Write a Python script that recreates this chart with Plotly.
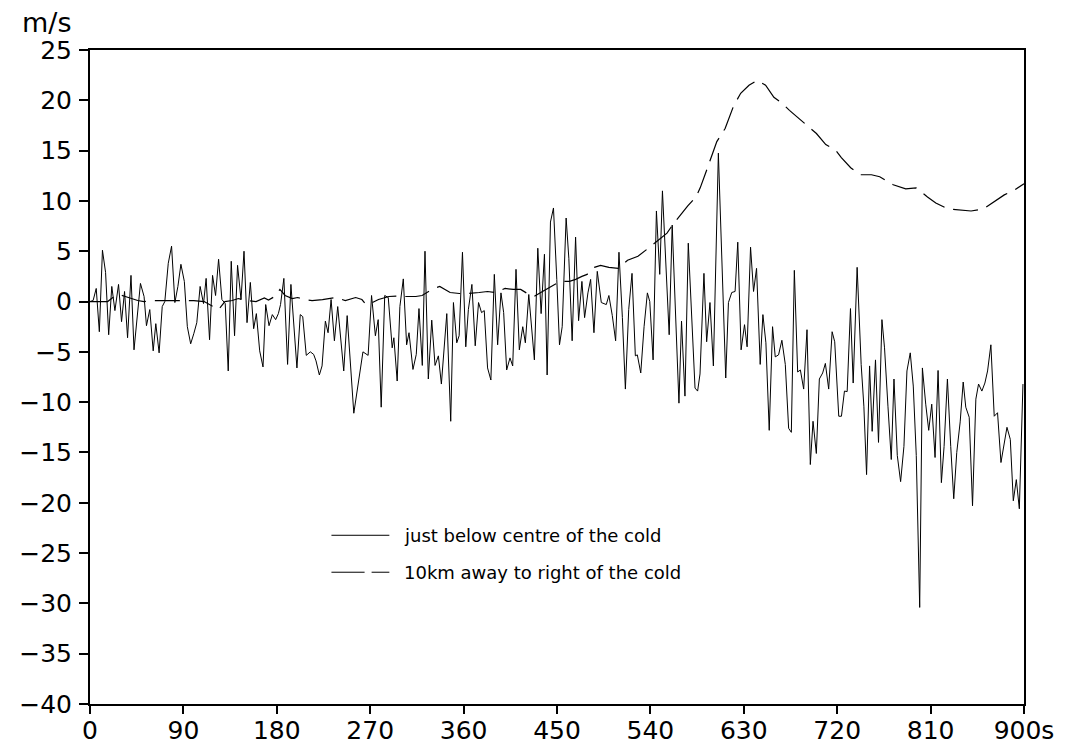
import plotly.graph_objects as go

# ---- data ----
solid_t = [0, 3, 6, 9, 12, 15, 18, 21, 24, 27.5, 30.4, 33.3, 36.2, 39.5, 42.4, 45.5, 48.6, 52.1, 54.4, 57.6,
           60.9, 63.4, 66.6, 69.6, 72.1, 75.4, 78.6, 81.8, 84.7, 87.6, 90.9, 93.8, 97, 100, 102.9, 106.1,
           109.4, 111.9, 115.2, 118.1, 121, 123.9, 127.1, 130.3, 133.2, 136.1, 139.3, 142.2, 145.5, 148.4,
           151.3, 154.5, 157.7, 160.3, 163.5, 166.7, 169.3, 172.5, 175.7, 178.9, 181.5, 183.6, 186.8,
           190.4, 193.6, 199.4, 202.6, 205, 208.4, 212.3, 215.5, 217.8, 221, 223.6, 226.8, 229.4, 232.3,
           235.5, 238.7, 244.5, 247.8, 254.2, 259, 263, 268, 271.3, 275, 277.7, 280.6, 284, 287.4, 291.2,
           292.8, 296, 298.6, 301.9, 305.1, 307.4, 311.2, 314.4, 317, 320.2, 322.8, 326, 329.3, 332.5,
           335.7, 338.6, 343.8, 347.6, 350.2, 353.4, 355.7, 358.9, 362.1, 364.6, 368, 371.2, 374.4, 377.3,
           379.9, 383.1, 386.3, 389.6, 392.8, 396, 398.6, 401.5, 404.7, 407.3, 410.5, 413.7, 417, 419.5,
           422.8, 428.2, 431.5, 434.7, 437.9, 440.5, 443.7, 446.6, 449.8, 452.4, 455, 458.8, 461.4, 464.6,
           467.9, 470.8, 474, 476.6, 479.8, 482.4, 485.6, 488.8, 492.7, 497.5, 500, 503.3, 506.5, 509.7,
           513, 515.9, 519.1, 522.3, 525.5, 527.4, 530.7, 533.9, 537.1, 539.4, 542.6, 545.8, 549, 551.6,
           558.1, 561, 567.5, 570, 573.3, 576.5, 583, 585.5, 587.8, 591.6, 594.2, 597.4, 600.7, 605.5,
           612.6, 615.2, 618.4, 621.6, 624.2, 627.4, 630.7, 633.2, 636.5, 639.4, 642.3, 645.8, 648.4,
           651.3, 654.5, 657.7, 660.3, 663.5, 666.7, 670, 673.2, 675.8, 678.7, 681.9, 684.5, 687.7, 690.9,
           694.1, 696.7, 699.9, 702.8, 706, 708.6, 711.8, 715.1, 717.6, 721.5, 724.1, 727, 729.6, 732.8,
           735.4, 739.2, 743.1, 745.7, 748.3, 751.2, 753.7, 756.9, 759.8, 763.1, 765.6, 768.9, 772.1,
           774.7, 777.9, 781.1, 784.3, 787.2, 790.4, 793.3, 796.2, 799.5, 802.1, 805.3, 808.2, 811.1,
           814.3, 817.2, 820.4, 823, 826.2, 829.4, 832.3, 835.2, 838.5, 841.4, 843.9, 847.2, 850.4, 853.6,
           856.2, 859.4, 862.3, 864.9, 868.1, 871.3, 874.5, 877.8, 881, 883.6, 886.8, 889.7, 892.6, 895.5,
           899]
solid_v = [0, 0.1, 1.3, -3.0, 5.1, 2.9, -3.3, 1.5, -0.9, 1.7, -2.0, 1.0, -3.6, 2.6, -4.8, -1.5, 1.8, 0.5, -2.4, -0.8,
           -4.9, -2.2, -5.1, -0.5, 0, 3.8, 5.5, -0.1, 1.5, 3.7, 2.0, -2.5, -4.2, -3.2, -2.1, 1.5,
           -0.2, 2.3, -3.8, 2.6, 0.6, 4.2, 0.2, -0.2, -6.9, 4.0, -3.4, 3.6, 0.2, 5.0,
           -2.1, 1.9, -2.7, -1.2, -4.9, -6.5, -0.3, -2.4, -1.3, -1.8, -1.2, -0.3, 2.3,
           -6.25, 1.7, -6.6, -1.3, -1.5, -5.35, -5.0, -5.25, -5.9, -7.3, -6.4, -1.95, -3.1, 0.2,
           -3.9, -0.5, -6.9, -1.4, -11.1, -7.75, -5.0, -5.35, 0.6, -3.4, -1.8, -10.5, 0.6, 0.4, -4.6,
           -3.6, -7.9, -0.5, 2.25, -4.3, -3.1, -6.75, -5.25, -0.7, -6.35, 5.0, -7.7, -1.85, -6.35,
           -5.4, -8.2, -1.2, -11.9, -0.1, -4.1, -3.4, 4.9, -4.5, -0.8, 1.7, -4.4, -0.1, -1.1,
           -0.9, -6.6, -7.8, 2.7, -4.3, 0.86, -1.1, -6.8, -5.6, -6.4, 3.2, -4.8, -2.5, -4.1,
           0.7, -5.8, 5.3, -1.2, 4.7, -7.3, 7.9, 9.3, 2.2, -4.3, -2.5, 8.3, 4.3, -3.9,
           6.4, -1.9, 2.0, -1.6, 0.86, 2.2, -3.1, 3.0, -0.1, -0.3, 0.6, -1.4, -3.9, 4.9,
           -1.6, -8.7, -0.8, 2.8, -5.4, -5.3, -7.1, -2.5, 0.86, 0, -5.8, 9.0, 2.7, 11.0,
           -3.3, 7.6, -10.1, -1.95, -9.4, 5.8, -8.6, -8.9, -7.2, 2.8, -4.0, -0.1, -6.4, 14.75,
           -7.6, -0.1, 0.9, 1.0, 5.9, -4.8, -2.3, -4.5, 5.4, 1.0, 3.3, -6.25, -1.3,
           -4.1, -12.8, -2.5, -5.5, -5.3, -3.85, -6.25, -12.6, -13.0, 3.1, -7.0, -6.8, -8.7, -2.8,
           -16.2, -11.9, -15.1, -7.7, -7.1, -6.15, -8.7, -3.0, -4.0, -11.4, -11.4, -8.9, -8.95, -0.7,
           -8.1, 3.4, -6.25, -10.4, -17.2, -6.4, -12.9, -5.8, -14.0, -1.8, -4.6, -10.4, -15.7,
           -7.7, -15.3, -17.9, -14.4, -6.9, -5.1, -8.4, -15.3, -30.4, -6.6, -10.2, -12.8, -10.2,
           -15.5, -6.85, -18.0, -14.4, -7.7, -14.4, -19.6, -15.0, -11.96, -8.0, -10.5, -11.5, -20.3, -9.7,
           -8.2, -8.9, -8.1, -6.9, -4.3, -11.4, -11.05, -16.0, -14.0, -12.5, -13.7, -19.8, -17.7, -20.6,
           -8.2]

dash_t = [0, 10, 17, 22, 28, 34, 40, 46, 52, 62, 75, 90, 100, 110, 117, 124, 130, 137, 143, 150, 160,
          168, 172, 178, 183, 188, 195, 200, 207, 214, 224, 232, 237, 246, 256, 262, 266, 272, 278, 288,
          296, 304, 314, 320, 325, 331, 337, 342, 347, 356, 365, 375, 383, 390, 400, 408, 415, 423, 428,
          436, 444, 453, 462, 468, 474, 479, 486, 492, 500, 509, 518, 528, 538, 546, 556, 562, 568, 576,
          584, 588, 594, 599, 604, 612, 620, 627, 635, 643, 651, 659, 667, 674, 683, 692, 700, 709, 718,
          724, 733, 742, 753, 761, 774, 786, 796, 807, 815, 827, 839, 849, 861, 873, 881, 891, 900]
dash_v = [0, 0, 0, 0.4, 0.7, 0.5, 0.3, 0.1, 0, 0.1, 0.1, 0.1, 0.1, 0, -0.4, -0.8, 0, 0.1, 0.3, 0.1, 0,
          0.35, 0.15, 0.5, 1.2, 0.6, 0.3, 0.4, 0.2, 0.1, 0.2, 0.35, 0.4, 0.1, 0.4, 0.2, -0.3, -0.1, 0.2, 0.5,
          0.55, 0.5, 0.5, 0.6, 0.9, 1.3, 1.5, 1.2, 0.9, 0.8, 0.8, 0.9, 1.0, 0.9, 1.3, 1.2, 1.2, 0.7, 0.5,
          1.0, 1.5, 2.0, 2.0, 2.2, 2.5, 2.7, 3.4, 3.6, 3.4, 3.3, 4.1, 4.5, 5.3, 6.0, 6.8, 7.7, 8.5, 9.5,
          10.4, 11.3, 13.0, 14.4, 15.9, 17.2, 19.4, 20.7, 21.5, 22.0, 21.5, 20.3, 19.7, 19.0, 18.2, 17.4, 16.7, 15.6, 15.1,
          14.3, 13.3, 12.6, 12.6, 12.4, 11.6, 11.2, 11.3, 10.4, 9.8, 9.2, 9.1, 9.0, 9.2, 10.0, 10.6, 11.1, 11.7]

x_ticks = [0, 90, 180, 270, 360, 450, 540, 630, 720, 810, 900]
x_tick_labels = ["0", "90", "180", "270", "360", "450", "540", "630", "720", "810", "900s"]
y_ticks = list(range(-40, 26, 5))

series_names = ["just below centre of the cold", "10km away to right of the cold"]
y_unit = "m/s"

FONT = "DejaVu Sans"

fig = go.Figure()
fig.add_trace(go.Scatter(x=solid_t, y=solid_v, mode="lines", name=series_names[0],
                         line=dict(color="black", width=1), showlegend=False))
fig.add_trace(go.Scatter(x=dash_t, y=dash_v, mode="lines", name=series_names[1],
                         line=dict(color="black", width=1.2, dash="25px,9px"), showlegend=False))

# manual legend (samples + text)
lx0, lx1 = 0.2585, 0.3205
ly = [0.258, 0.2015]
fig.add_shape(type="line", xref="paper", yref="paper", x0=lx0, x1=lx1, y0=ly[0], y1=ly[0],
              line=dict(color="black", width=1))
fig.add_shape(type="line", xref="paper", yref="paper", x0=lx0, x1=0.294, y0=ly[1], y1=ly[1],
              line=dict(color="black", width=1))
fig.add_shape(type="line", xref="paper", yref="paper", x0=0.3015, x1=lx1, y0=ly[1], y1=ly[1],
              line=dict(color="black", width=1))
for name, yy in zip(series_names, ly):
    fig.add_annotation(text=name, xref="paper", yref="paper", x=0.334, y=yy, xanchor="left",
                       yanchor="middle", showarrow=False, font=dict(family=FONT, size=18, color="black"))

fig.add_annotation(text=y_unit, xref="paper", yref="paper", x=-0.047, y=1.042, xanchor="center",
                   yanchor="middle", showarrow=False, font=dict(family=FONT, size=27, color="black"))

fig.update_xaxes(range=[0, 900], tickvals=x_ticks, ticktext=x_tick_labels, ticks="outside", ticklen=8,
                 tickwidth=1.5, tickcolor="black", showline=True, linecolor="black", linewidth=2,
                 mirror=True, showgrid=False, zeroline=False, automargin=False, ticklabelstandoff=-5,
                 tickfont=dict(family=FONT, size=25, color="black"))
fig.update_yaxes(range=[-40, 25], tickvals=y_ticks, ticks="outside", ticklen=9, tickwidth=1.5,
                 tickcolor="black", showline=True, linecolor="black", linewidth=2, mirror=True,
                 showgrid=False, zeroline=False, ticklabelstandoff=2, automargin=False,
                 tickfont=dict(family=FONT, size=25, color="black"))
fig.update_layout(width=1069, height=746, margin=dict(l=90, r=45, t=50, b=42),
                  paper_bgcolor="white", plot_bgcolor="white", showlegend=False)

fig.write_html("out.html")
